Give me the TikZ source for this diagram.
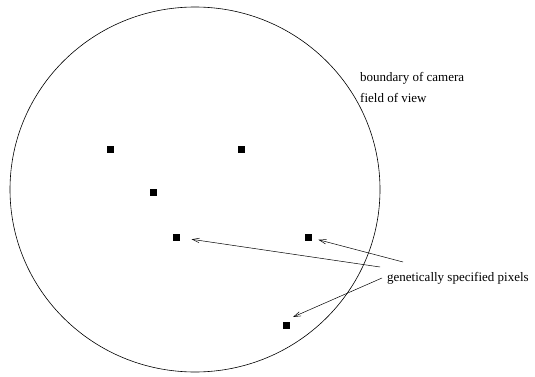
\documentclass[tikz,border=0pt]{standalone}
\usepackage{fontspec}
\setmainfont{Liberation Serif}
\usetikzlibrary{arrows.meta}
\begin{document}
\begin{tikzpicture}[x=1pt,y=-1pt,
  pix/.style={fill=black,inner sep=0pt,minimum size=7pt,draw=none},
  lbl/.style={anchor=west,inner sep=0pt,font=\fontsize{13}{15}\selectfont},
  ptr/.style={-{Straight Barb[length=7pt,width=4.5pt]},line width=0.5pt}]
\useasboundingbox (0,0) rectangle (535,377);
\draw[line width=0.6pt] (195,189.5) ellipse [x radius=185, y radius=182.5];
\node[pix] (p1) at (110,149) {};
\node[pix] (p2) at (241,149) {};
\node[pix] (p3) at (153,192) {};
\node[pix] (p4) at (176,237) {};
\node[pix] (p5) at (308,237) {};
\node[pix] (p6) at (286,325) {};
\node[lbl] (b1) at (360,78) {boundary of camera};
\node[lbl] (b2) at (360,98) {field of view};
\node[lbl] (g) at (387,278) {genetically specified pixels};
\coordinate (t1) at (380,267);
\coordinate (t2) at (403,262);
\coordinate (t3) at (382,278);
\draw[ptr,shorten >=12pt] (t1) -- (p4);
\draw[ptr,shorten >=7pt] (t2) -- (p5);
\draw[ptr] (t3) -- (293,317);
\end{tikzpicture}
\end{document}
